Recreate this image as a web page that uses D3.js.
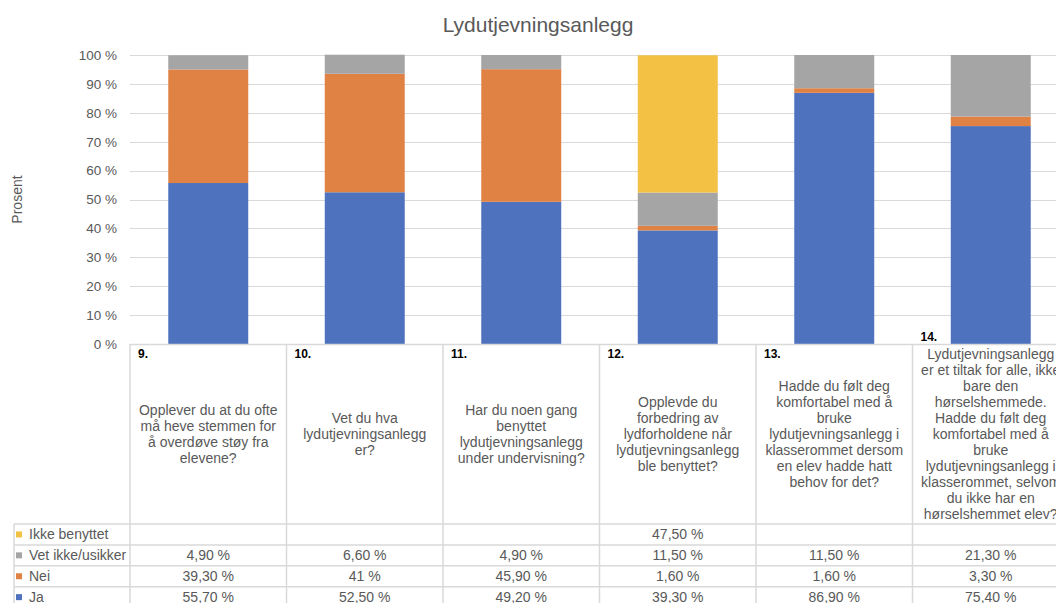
<!DOCTYPE html>
<html>
<head>
<meta charset="utf-8">
<script src="https://cdn.jsdelivr.net/npm/d3@7"></script>
<style>
  html, body { margin: 0; padding: 0; background: #fff; overflow: hidden; }
  svg { display: block; font-family: "Liberation Sans", Arial, Helvetica, sans-serif; }
</style>
</head>
<body>
<svg id="chart" width="1056" height="603"></svg>
<script>
// ---------- data ----------
const categories = ["9.", "10.", "11.", "12.", "13.", "14."];
const questionLines = [
  ["Opplever du at du ofte", "må heve stemmen for", "å overdøve støy fra", "elevene?"],
  ["Vet du hva", "lydutjevningsanlegg", "er?"],
  ["Har du noen gang", "benyttet", "lydutjevningsanlegg", "under undervisning?"],
  ["Opplevde du", "forbedring av", "lydforholdene når", "lydutjevningsanlegg", "ble benyttet?"],
  ["Hadde du følt deg", "komfortabel med å", "bruke", "lydutjevningsanlegg i", "klasserommet dersom", "en elev hadde hatt", "behov for det?"],
  ["Lydutjevningsanlegg", "er et tiltak for alle, ikke", "bare den", "hørselshemmede.", "Hadde du følt deg", "komfortabel med å", "bruke", "lydutjevningsanlegg i", "klasserommet, selvom", "du ikke har en", "hørselshemmet elev?"]
];
const seriesNames = ["Ja", "Nei", "Vet ikke/usikker", "Ikke benyttet"];
const ja = [55.7, 52.5, 49.2, 39.3, 86.9, 75.4];
const nei = [39.3, 41, 45.9, 1.6, 1.6, 3.3];
const vetIkke = [4.9, 6.6, 4.9, 11.5, 11.5, 21.3];
const ikkeBenyttet = [null, null, null, 47.5, null, null];
const jaLabels = ["55,70 %", "52,50 %", "49,20 %", "39,30 %", "86,90 %", "75,40 %"];
const neiLabels = ["39,30 %", "41 %", "45,90 %", "1,60 %", "1,60 %", "3,30 %"];
const vetIkkeLabels = ["4,90 %", "6,60 %", "4,90 %", "11,50 %", "11,50 %", "21,30 %"];
const ikkeBenyttetLabels = ["", "", "", "47,50 %", "", ""];
const yTicks = [0, 10, 20, 30, 40, 50, 60, 70, 80, 90, 100];
const yTickLabels = ["0 %", "10 %", "20 %", "30 %", "40 %", "50 %", "60 %", "70 %", "80 %", "90 %", "100 %"];
const colors = ["#4E72BE", "#DF8244", "#A5A5A5", "#F3C143"];

// ---------- layout ----------
const svg = d3.select("#chart");
const plotLeft = 130, plotRight = 1069, plotTop = 55, plotBottom = 344;
const tableTop = 344, headerBottom = 524, rowH = 20.9, legendLeft = 14;
const textGray = "#595959", gridColor = "#D9D9D9";

const x = d3.scaleBand().domain(categories).range([plotLeft, plotRight]).paddingInner(0.489).paddingOuter(0.2445);
const xCell = d3.scaleBand().domain(categories).range([plotLeft, plotRight]).padding(0);
const y = d3.scaleLinear().domain([0, 100]).range([plotBottom, plotTop]);

// title
svg.append("text").attr("x", 538).attr("y", 32).attr("text-anchor", "middle")
  .attr("font-size", 21).attr("fill", textGray).text("Lydutjevningsanlegg");

// y axis title
svg.append("text").attr("transform", `translate(22,${(plotTop + plotBottom) / 2}) rotate(-90)`)
  .attr("text-anchor", "middle").attr("font-size", 14).attr("fill", textGray).text("Prosent");

// gridlines + ticks
const yAxis = d3.axisLeft(y).tickValues(yTicks).tickSize(0).tickPadding(13)
  .tickFormat((d, i) => yTickLabels[i]);
const gAxis = svg.append("g").attr("transform", `translate(${plotLeft},0)`).call(yAxis);
gAxis.select(".domain").remove();
gAxis.selectAll("text").attr("font-size", 13.5).attr("fill", textGray)
  .attr("font-family", "'Liberation Sans', Arial, Helvetica, sans-serif");
svg.append("g").selectAll("line").data(yTicks.filter(d => d > 0)).join("line")
  .attr("x1", plotLeft).attr("x2", plotRight)
  .attr("y1", d => Math.round(y(d)) + 0.5).attr("y2", d => Math.round(y(d)) + 0.5)
  .attr("stroke", gridColor).attr("stroke-width", 1.2);

// stacked bars
const rows = categories.map((c, i) => ({
  cat: c, "Ja": ja[i], "Nei": nei[i], "Vet ikke/usikker": vetIkke[i], "Ikke benyttet": ikkeBenyttet[i] || 0
}));
const stack = d3.stack().keys(seriesNames)(rows);
svg.append("g").selectAll("g").data(stack).join("g")
  .attr("fill", (d, i) => colors[i])
  .selectAll("rect").data(d => d).join("rect")
  .attr("x", d => x(d.data.cat))
  .attr("width", x.bandwidth())
  .attr("y", d => y(d[1]))
  .attr("height", d => Math.max(0, y(d[0]) - y(d[1])));

// ---------- data table ----------
const tableRows = [
  { name: "Ikke benyttet", color: colors[3], labels: ikkeBenyttetLabels },
  { name: "Vet ikke/usikker", color: colors[2], labels: vetIkkeLabels },
  { name: "Nei", color: colors[1], labels: neiLabels },
  { name: "Ja", color: colors[0], labels: jaLabels }
];
const tableBottom = headerBottom + rowH * tableRows.length;
const tg = svg.append("g");
tg.append("line").attr("x1", plotLeft).attr("x2", plotRight).attr("y1", tableTop + 0.5).attr("y2", tableTop + 0.5)
  .attr("stroke", gridColor).attr("stroke-width", 1.5);
d3.range(tableRows.length + 1).forEach(i => {
  const yy = headerBottom + i * rowH;
  tg.append("line").attr("x1", legendLeft).attr("x2", plotRight).attr("y1", yy).attr("y2", yy)
    .attr("stroke", gridColor).attr("stroke-width", 1.5);
});
tg.append("line").attr("x1", legendLeft).attr("x2", legendLeft).attr("y1", headerBottom).attr("y2", tableBottom)
  .attr("stroke", gridColor).attr("stroke-width", 1.5);
categories.concat(["end"]).forEach((c, i) => {
  const xx = i < categories.length ? xCell(c) : plotRight;
  tg.append("line").attr("x1", xx).attr("x2", xx).attr("y1", tableTop).attr("y2", tableBottom)
    .attr("stroke", gridColor).attr("stroke-width", 1.5);
});

// header cells
const centerY = (tableTop + headerBottom) / 2;
const lineH = 16;
categories.forEach((c, i) => {
  const cx = xCell(c) + xCell.bandwidth() / 2;
  const lines = questionLines[i];
  const numY = i === 5 ? 341 : 358;
  tg.append("text").attr("x", xCell(c) + 8).attr("y", numY)
    .attr("font-size", 12).attr("font-weight", "bold").attr("fill", "#000").text(c);
  const startY = centerY - (lines.length - 1) * lineH / 2;
  const t = tg.append("text").attr("text-anchor", "middle").attr("font-size", 14).attr("fill", textGray);
  lines.forEach((ln, j) => {
    t.append("tspan").attr("x", cx).attr("y", startY + j * lineH).attr("dy", "0.35em").text(ln);
  });
});

// data rows
tableRows.forEach((r, i) => {
  const cy = headerBottom + i * rowH + rowH / 2;
  tg.append("rect").attr("x", legendLeft + 2).attr("y", cy - 3).attr("width", 6).attr("height", 6).attr("fill", r.color);
  tg.append("text").attr("x", legendLeft + 15).attr("y", cy).attr("dy", "0.35em")
    .attr("font-size", 14).attr("fill", textGray).text(r.name);
  categories.forEach((c, j) => {
    if (!r.labels[j]) return;
    tg.append("text").attr("x", xCell(c) + xCell.bandwidth() / 2).attr("y", cy).attr("dy", "0.35em")
      .attr("text-anchor", "middle").attr("font-size", 14).attr("fill", textGray).text(r.labels[j]);
  });
});
</script>
</body>
</html>
